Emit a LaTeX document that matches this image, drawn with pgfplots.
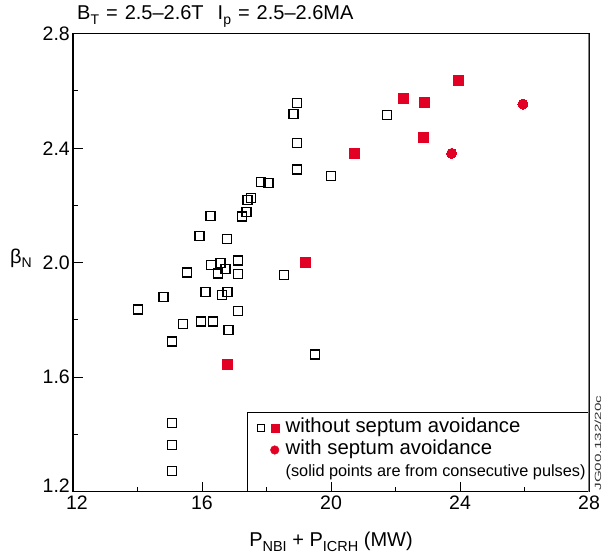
\documentclass[border=0pt]{standalone}
\usepackage{fontspec}
\setmainfont{Liberation Sans}
\usepackage{pgfplots}
\pgfplotsset{compat=1.18}
\definecolor{jetred}{RGB}{226,0,36}
\pgfplotstableread{
x y
18.94 2.559
18.84 2.520
18.94 2.417
18.94 2.326
20.01 2.303
17.83 2.282
18.06 2.278
17.41 2.219
17.53 2.225
17.38 2.177
17.23 2.161
16.26 2.162
15.92 2.093
16.78 2.083
17.12 2.008
16.27 1.991
16.57 1.998
16.73 1.978
16.50 1.962
17.12 1.961
15.54 1.966
18.55 1.958
14.81 1.880
14.01 1.837
16.11 1.898
16.63 1.887
16.79 1.898
17.12 1.831
15.41 1.787
15.97 1.795
16.35 1.795
16.82 1.765
15.07 1.725
19.51 1.679
15.07 1.440
15.07 1.364
15.07 1.273
21.73 2.516
}\opensq
\pgfplotstableread{
x y
23.96 2.635
22.25 2.572
22.90 2.561
22.87 2.439
20.73 2.383
19.20 2.002
16.78 1.644
}\redsq
\pgfplotstableread{
x y
25.95 2.554
23.74 2.382
}\redci
\begin{document}
\begin{tikzpicture}
\path[use as bounding box] (-73pt,-64.3pt) rectangle (536pt,491.7pt);
\begin{axis}[
 at={(0pt,0pt)}, anchor=south west,
 scale only axis, width=516pt, height=458pt,
 xmin=12, xmax=28, ymin=1.2, ymax=2.8,
 xtick={16,20,24,28}, xticklabels={16,20,24,28},
 ytick={1.6,2.0,2.4,2.8}, yticklabels={1.6,2.0,2.4,2.8},
 extra x ticks={12}, extra x tick labels={12},
 extra x tick style={xticklabel style={xshift=4pt}},
 extra y ticks={1.2}, extra y tick labels={1.2},
 extra y tick style={yticklabel style={yshift=5.7pt}},
 minor xtick={14,18,22,26}, minor ytick={1.4,1.8,2.2,2.6},
 tick align=inside, xtick pos=bottom, ytick pos=left,
 major tick length=10pt, minor tick length=5pt,
 tick style={black, line width=1pt},
 axis line style={black, line width=1.3pt},
 tick label style={font=\fontsize{19.5}{20}\selectfont},
 xticklabel style={inner sep=0pt, yshift=-4pt},
 yticklabel style={inner sep=0pt, xshift=-3pt},
 legend style={at={(axis cs:17.40,1.4774)}, anchor=north west, draw=none, fill=none,
   inner sep=0pt, outer sep=0pt, xshift=10pt, yshift=-6.7pt,
   column sep=6pt, row sep=4pt,
   nodes={inner sep=0pt, outer sep=0pt, text height=14pt, text depth=4pt, font=\fontsize{20.3}{22}\selectfont}},
 legend cell align=left,
]
\addplot[only marks, mark=square, mark size=4.5pt, mark options={draw=black, line width=1.3pt, fill=none}, forget plot] table[x=x,y=y]{\opensq};
\addplot[only marks, color=jetred, mark=square*, mark size=5pt, mark options={draw=jetred, fill=jetred, line width=0pt}, forget plot] table[x=x,y=y]{\redsq};
\addplot[only marks, color=jetred, mark=*, mark size=5pt, mark options={draw=jetred, fill=jetred, line width=0pt}, forget plot] table[x=x,y=y]{\redci};
\addlegendimage{legend image code/.code={\draw[black, line width=0.9pt] (0.45pt,-3.2pt) rectangle (6.85pt,3.2pt); \fill[jetred] (14pt,-4.2pt) rectangle (22.3pt,4.2pt);}}
\addlegendentry{without septum avoidance}
\addlegendimage{legend image code/.code={\fill[jetred] (17.6pt,0pt) circle (4.3pt);}}
\addlegendentry{with septum avoidance}
\addlegendimage{empty legend}
\addlegendentry{\fontsize{16.3}{18}\selectfont (solid points are from consecutive pulses)}
\draw[black, line width=1.2pt] (axis cs:17.40,1.2) |- (axis cs:28,1.4774);
\draw[black!50, line width=2pt] (rel axis cs:1,0) -- (rel axis cs:1,1);
\end{axis}
\node[anchor=base west, inner sep=0pt, font=\fontsize{20}{20}\selectfont] at (4pt,471.7pt)
 {B\raisebox{-5pt}{\fontsize{14}{14}\selectfont T}\hspace{7pt}=\hspace{7pt}2.5–2.6T\hspace{14pt}I\raisebox{-5pt}{\fontsize{14}{14}\selectfont p}\hspace{7pt}=\hspace{7pt}2.5–2.6MA};
\node[anchor=base east, inner sep=0pt, font=\fontsize{20}{20}\selectfont] at (-41pt,227.7pt)
 {β\raisebox{-4pt}{\fontsize{14}{14}\selectfont N}};
\node[anchor=base, inner sep=0pt, font=\fontsize{20}{20}\selectfont] at (258pt,-55pt)
 {P\raisebox{-4.5pt}{\fontsize{14.5}{14.5}\selectfont NBI} + P\raisebox{-4.5pt}{\fontsize{14.5}{14.5}\selectfont ICRH} (MW)};
\node[rotate=90, inner sep=0pt, text=black!80] at (525pt,48.7pt) {\resizebox{95pt}{6.5pt}{JG00.132/20c}};
\end{tikzpicture}
\end{document}
